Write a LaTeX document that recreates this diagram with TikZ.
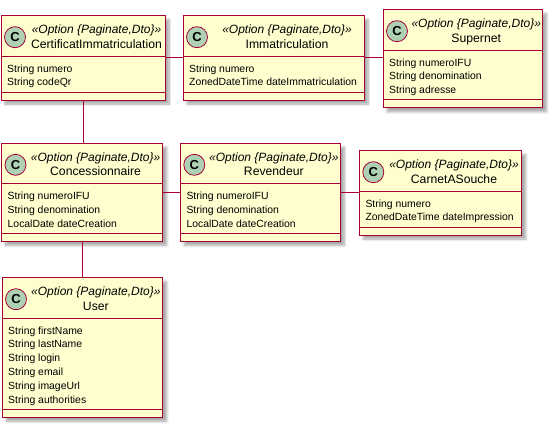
\documentclass[tikz,border=0pt]{standalone}
\usepackage{fontspec}
\setmainfont{Liberation Sans}
\usetikzlibrary{shadows.blur}
\definecolor{umlborder}{HTML}{A80036}
\definecolor{umlfill}{HTML}{FEFECE}
\definecolor{umlcirc}{HTML}{ADD1B2}
\tikzset{
  classbox/.style={draw=umlborder, fill=umlfill, line width=1pt, inner sep=0pt, outer sep=0pt, anchor=north west,
    blur shadow={shadow xshift=4pt, shadow yshift=-4pt, shadow blur steps=8, shadow opacity=35, shadow blur radius=2.5pt}},
  divline/.style={draw=umlborder, line width=1pt},
  circ/.style={circle, draw=umlborder, fill=umlcirc, line width=0.8pt, minimum size=21pt, inner sep=0pt, font=\fontsize{13}{14}\selectfont\bfseries},
  stereo/.style={anchor=base, inner sep=0pt, font=\fontsize{12}{14}\selectfont\itshape},
  cname/.style={anchor=base, inner sep=0pt, font=\fontsize{12.2}{14}\selectfont},
  attr/.style={anchor=base west, inner sep=0pt, font=\fontsize{10.4}{12.5}\selectfont},
  conn/.style={draw=umlborder, line width=1pt}
}
\newcommand\umlbox[7]{%
  \pgfmathsetmacro\umlw{#4-#2}%
  \pgfmathsetmacro\umlh{40.5+12+(#5-1)*13.8+10+8}%
  \node[classbox, minimum width=\umlw pt, minimum height=\umlh pt] (#1) at (#2,#3) {};
  \draw[divline] ([yshift=-40.5pt]#1.north west) -- ([yshift=-40.5pt]#1.north east);
  \draw[divline] ([yshift=8pt]#1.south west) -- ([yshift=8pt]#1.south east);
  \node[circ] (#1-c) at ([xshift=14pt,yshift=-21.5pt]#1.north west) {C};
  \pgfmathsetmacro\umlcx{(#2+27+#4)/2}%
  \node[stereo] (#1-s) at ({\umlcx},{#3+13.7+4.3}) {«Option \{Paginate,Dto\}»};
  \node[cname] (#1-n) at ({\umlcx},{#3+28+4.3}) {#6};
  \foreach \umlattr [count=\i] in {#7} {\node[attr] (#1-a\i) at ({#2+6},{#3+40.5+12+(\i-1)*13.8+3.8}) {\umlattr};}
}
\begin{document}
\begin{tikzpicture}[x=1pt,y=-1pt]
\useasboundingbox (0,0) rectangle (552,426);
\umlbox{cert}{1}{15.7}{165}{2}{CertificatImmatriculation}{String numero, String codeQr}
\umlbox{immat}{183}{15.7}{364}{2}{Immatriculation}{String numero, ZonedDateTime dateImmatriculation}
\umlbox{supernet}{383}{9.7}{542.5}{3}{Supernet}{String numeroIFU, String denomination, String adresse}
\umlbox{concess}{1.5}{143.3}{162.7}{3}{Concessionnaire}{String numeroIFU, String denomination, LocalDate dateCreation}
\umlbox{revend}{180.3}{143.3}{340.3}{3}{Revendeur}{String numeroIFU, String denomination, LocalDate dateCreation}
\umlbox{carnet}{359.3}{150.7}{521.7}{2}{CarnetASouche}{String numero, ZonedDateTime dateImpression}
\umlbox{user}{2}{277.7}{162.7}{6}{User}{String firstName, String lastName, String login, String email, String imageUrl, String authorities}
\draw[conn] (cert.east) -- (immat.west);
\draw[conn] (immat.east) -- (immat.east -| supernet.west);
\draw[conn] (cert.south) -- (cert.south |- concess.north);
\draw[conn] (concess.east) -- (concess.east -| revend.west);
\draw[conn] (revend.east) -- (revend.east -| carnet.west);
\draw[conn] (concess.south) -- (concess.south |- user.north);
\end{tikzpicture}
\end{document}
